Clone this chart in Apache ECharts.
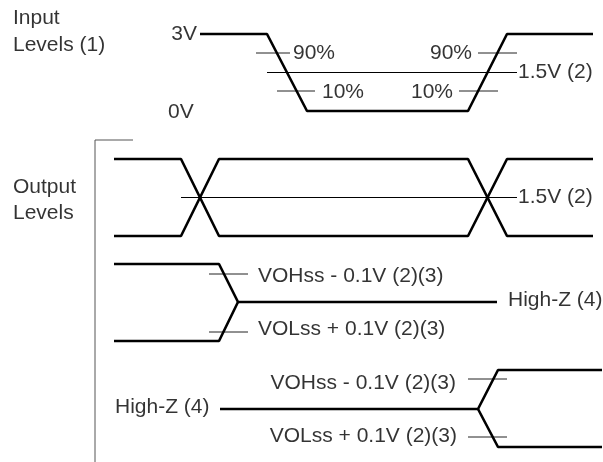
<!DOCTYPE html>
<html>
<head>
<meta charset="utf-8">
<script src="https://cdn.jsdelivr.net/npm/echarts@6/dist/echarts.min.js"></script>
<style>
  html, body {margin: 0; padding: 0; background: #fff;}
  #chart {width: 603px; height: 462px;}
</style>
</head>
<body>
<div id="chart"></div>
<script>
// diagram space: x = time position, y = level position (downwards), both in px units of the 603x462 sheet
const inputWave = [[200, 34], [267, 34], [307, 111], [468, 111], [507, 34], [593, 34]];
const outputHighLow = [[114, 159], [181, 159], [219, 236], [468, 236], [507, 159], [593, 159]];
const outputLowHigh = [[114, 236], [181, 236], [219, 159], [468, 159], [507, 236], [593, 236]];
const toHighZTop = [[114, 264], [219, 264], [238, 302], [497, 302]];
const toHighZBottom = [[114, 341], [219, 341], [238, 302]];
const fromHighZTop = [[220, 409], [478, 409], [498, 370], [602, 370]];
const fromHighZBottom = [[478, 409], [498, 447], [602, 447]];

const refLines = [
  [[267, 72.5], [517, 72.5]],
  [[181, 197.5], [517, 197.5]],
];
const tickMarks = [
  [[256, 53], [290, 53]],
  [[277, 91], [315, 91]],
  [[478, 53], [517, 53]],
  [[459, 91], [498, 91]],
  [[209, 274], [248, 274]],
  [[209, 332], [248, 332]],
  [[468, 379], [507, 379]],
  [[468, 437], [507, 437]],
];
const bracket = [[133, 140], [95, 140], [95, 462]];

// text anchored at its left edge
const leftTexts = [
  [13, 18, "Input"],
  [13, 45, "Levels (1)"],
  [168, 112, "0V"],
  [293, 53, "90%"],
  [322, 92, "10%"],
  [518, 72, "1.5V (2)"],
  [13, 187, "Output"],
  [13, 213, "Levels"],
  [518, 197, "1.5V (2)"],
  [258, 276, "VOHss - 0.1V (2)(3)"],
  [258, 329, "VOLss + 0.1V (2)(3)"],
  [508, 300, "High-Z (4)"],
  [115, 407, "High-Z (4)"],
];
// text anchored at its right edge
const rightTexts = [
  [197, 34, "3V"],
  [472, 53, "90%"],
  [453, 92, "10%"],
  [456, 383, "VOHss - 0.1V (2)(3)"],
  [457, 436, "VOLss + 0.1V (2)(3)"],
];

const chart = echarts.init(document.getElementById("chart"));

const thick = data => ({
  type: "line", data, showSymbol: false, symbol: "none", silent: true,
  lineStyle: {color: "#000", width: 2.6}, z: 3,
});
const thin = (data, color) => ({
  type: "line", data, showSymbol: false, symbol: "none", silent: true,
  lineStyle: {color, width: 1}, z: 2,
});
const textSeries = (data, position) => ({
  type: "scatter", data, symbolSize: 0, silent: true,
  label: {
    show: true, position, distance: 0,
    formatter: p => p.data[2],
    fontFamily: "Liberation Sans, Arial, sans-serif", fontSize: 21, color: "#000",
  },
});

chart.setOption({
  animation: false,
  grid: {left: 0, right: 0, top: 0, bottom: 0},
  xAxis: {type: "value", min: 0, max: 603, show: false},
  yAxis: {type: "value", min: 0, max: 462, inverse: true, show: false},
  series: [
    thick(inputWave),
    thick(outputHighLow),
    thick(outputLowHigh),
    thick(toHighZTop),
    thick(toHighZBottom),
    thick(fromHighZTop),
    thick(fromHighZBottom),
    ...refLines.map(d => thin(d, "#000")),
    ...tickMarks.map(d => thin(d, "#222")),
    thin(bracket, "#555"),
    textSeries(leftTexts, "right"),
    textSeries(rightTexts, "left"),
  ],
});
</script>
</body>
</html>
